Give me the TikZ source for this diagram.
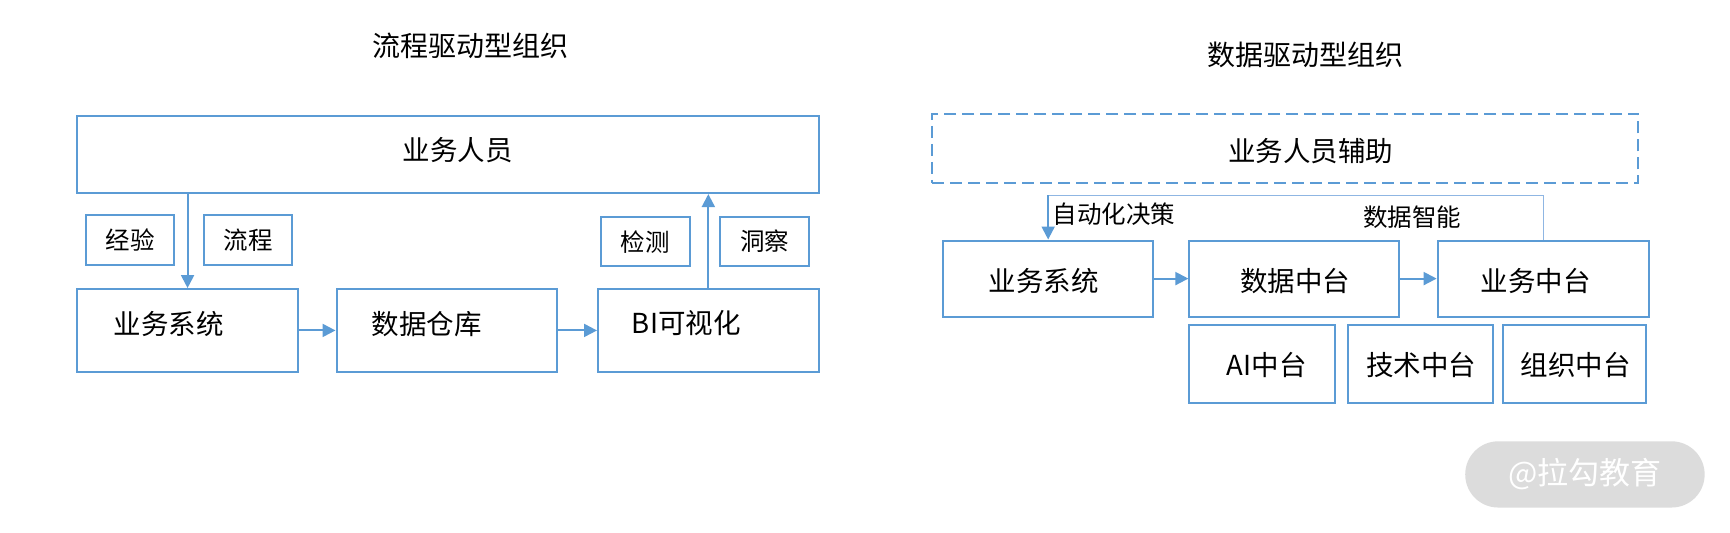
\documentclass[tikz,border=0pt]{standalone}
\usepackage{fontspec}
\setmainfont{Noto Sans CJK SC}
\usetikzlibrary{arrows.meta,fit,calc}
\definecolor{lineblue}{HTML}{5B9BD5}
\definecolor{lightblue}{HTML}{8FB6E3}
\definecolor{wmgray}{HTML}{DCDCDC}
\begin{document}
\begin{tikzpicture}[x=1.1033pt,y=-1.1033pt,
  box/.style={draw=lineblue,line width=2pt,inner sep=0pt},
  dbox/.style={box,dash pattern=on 12pt off 6pt},
  arr/.style={draw=lineblue,line width=2pt,-{Triangle[length=13pt,width=13pt]}},
  big/.style={font=\fontsize{27.5}{30}\selectfont},
  small/.style={font=\fontsize{24.5}{28}\selectfont},
  ttl/.style={font=\fontsize{28}{32}\selectfont},
]
\useasboundingbox (0,0) rectangle (1568,483);
\fill[white] (0,0) rectangle (1568,483);

% ---------- left ----------
\node[ttl] (lt) at (426,42) {流程驱动型组织};
\node[box,fit={(70,105)(742,175)}] (P) {};
\node[big] (Pt) at (415,136) {业务人员};
\node[box,fit={(78,195)(158,240)}] (exp) {};
\node[small] (expt) at (exp.center) {经验};
\node[box,fit={(185,195)(265,240)}] (proc) {};
\node[small] (proct) at (proc.center) {流程};
\node[box,fit={(545,197)(625,241)}] (det) {};
\node[small] (dett) at (det.center) {检测};
\node[box,fit={(653,197)(733,241)}] (ins) {};
\node[small] (inst) at (ins.center) {洞察};
\node[box,fit={(70,262)(270,337)}] (S1) {};
\node[box,fit={(305,262)(505,337)}] (DW) {};
\node[box,fit={(542,262)(742,337)}] (BI) {};
\node[big] (S1t) at (153,294) {业务系统};
\node[big] (DWt) at (387,294) {数据仓库};
\node[big] (BIt) at (622,293) {BI可视化};
\draw[arr] (S1.north |- P.south) -- (S1.north);
\draw[arr] (BI.north) -- (BI.north |- P.south);
\draw[arr] (S1.east) -- (DW.west);
\draw[arr] (DW.east) -- (BI.west);

% ---------- right ----------
\node[ttl] (rt) at (1183,50) {数据驱动型组织};
\node[dbox,fit={(845,103)(1485,166)}] (D) {};
\node[big] (Dt) at (1188,137) {业务人员辅助};
\node[box,fit={(855,218)(1045,287)}] (S2) {};
\node[big] (S2t) at (946,255) {业务系统};
\node[box,fit={(1078,218)(1268,287)}] (DM) {};
\node[big] (DMt) at (1174,255) {数据中台};
\node[box,fit={(1303,218)(1495,287)}] (BM) {};
\node[big] (BMt) at (1392,255) {业务中台};
\node[box,fit={(1078,295)(1210,365)}] (AI) {};
\node[big] (AIt) at (1148,331) {AI中台};
\node[box,fit={(1222,295)(1353,365)}] (TE) {};
\node[big] (TEt) at (1288,331) {技术中台};
\node[box,fit={(1362,295)(1492,365)}] (OR) {};
\node[big] (ORt) at (1428,331) {组织中台};
\draw[arr] (S2.east) -- (DM.west);
\draw[arr] (DM.east) -- (BM.west);
\coordinate (fr) at ($(BM.north)+(0,-40)$);
\coordinate (fl) at (S2.north |- fr);
\draw[draw=lightblue,line width=1.6pt] (BM.north) -- (fr) -- (fl);
\draw[arr] (fl) -- (S2.north);
\node[small,anchor=west] (ad) at (951,194) {自动化决策};
\node[small] (di) at (1280,197) {数据智能};

% ---------- watermark ----------
\node[fill=wmgray,rounded corners=33pt,inner sep=0pt,fit={(1328,400)(1545,460)}] (wm) {};
\node[text=white,font=\fontsize{31}{34}\selectfont] (wmt) at (wm.center) {@拉勾教育};
\end{tikzpicture}
\end{document}
